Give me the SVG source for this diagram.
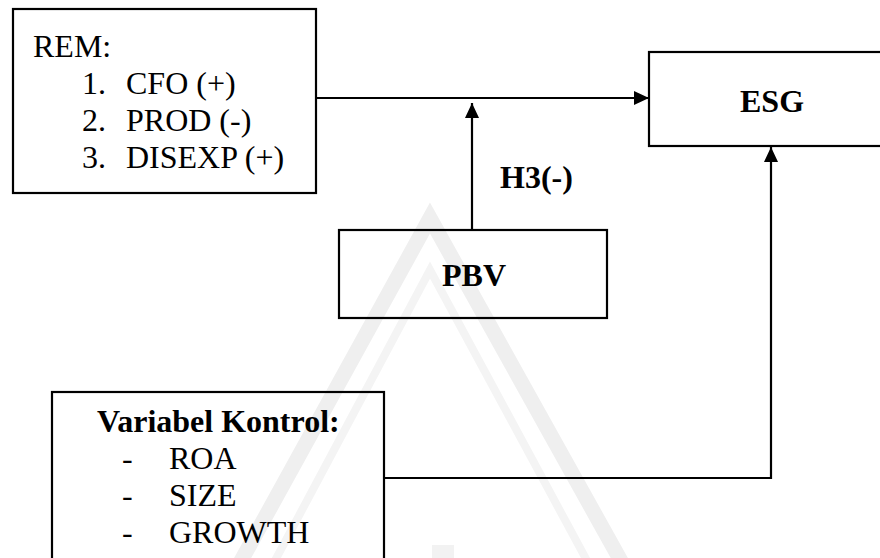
<svg xmlns="http://www.w3.org/2000/svg" width="880" height="558" viewBox="0 0 880 558">
<style>
.box{fill:none;stroke:#000;stroke-width:2.2}
.ln{fill:none;stroke:#000;stroke-width:2.2}
.t{font-family:"Liberation Serif","Times New Roman",serif;font-size:32px;fill:#000}
.b{font-weight:bold}
.wm{fill:none;stroke:#efefef;stroke-width:15}
</style>
<defs>
<marker id="ah" viewBox="0 0 15 14" refX="15" refY="7" markerWidth="15" markerHeight="14" markerUnits="userSpaceOnUse" orient="auto">
<path d="M0,0 L15,7 L0,14 Z" fill="#000"/>
</marker>
</defs>
<rect width="880" height="558" fill="#fff"/>
<g id="watermark">
<path class="wm" d="M236,570 L430,218 L626,570"/>
<path d="M270,570 L430,270 L592,570" fill="none" stroke="#f4f4f4" stroke-width="8"/>
<rect x="432" y="545" width="22" height="20" fill="#f2f2f2"/>
</g>
<g id="connectors">
<path class="ln" d="M316,98 H649" marker-end="url(#ah)"/>
<path class="ln" d="M472,230 V103" marker-end="url(#ah)"/>
<path class="ln" d="M384,478 H771 V147" marker-end="url(#ah)"/>
<text class="t b" x="500" y="188">H3(-)</text>
</g>
<g id="rem">
<rect class="box" x="13" y="9" width="303" height="184"/>
<text class="t" x="33" y="57">REM:</text>
<text class="t" x="82" y="94">1.</text>
<text class="t" x="126" y="94">CFO (+)</text>
<text class="t" x="82" y="131">2.</text>
<text class="t" x="126" y="131">PROD (-)</text>
<text class="t" x="82" y="168">3.</text>
<text class="t" x="126" y="168">DISEXP (+)</text>
</g>
<g id="esg">
<rect class="box" x="649" y="52" width="260" height="94"/>
<text class="t b" x="740" y="112">ESG</text>
</g>
<g id="pbv">
<rect class="box" x="339" y="230" width="268" height="88"/>
<text class="t b" x="442" y="286">PBV</text>
</g>
<g id="kontrol">
<rect class="box" x="52" y="392" width="332" height="190"/>
<text class="t b" x="97" y="432">Variabel Kontrol:</text>
<text class="t" x="122" y="469">-</text>
<text class="t" x="169" y="469">ROA</text>
<text class="t" x="122" y="506">-</text>
<text class="t" x="169" y="506">SIZE</text>
<text class="t" x="122" y="543">-</text>
<text class="t" x="169" y="543">GROWTH</text>
</g>
</svg>
